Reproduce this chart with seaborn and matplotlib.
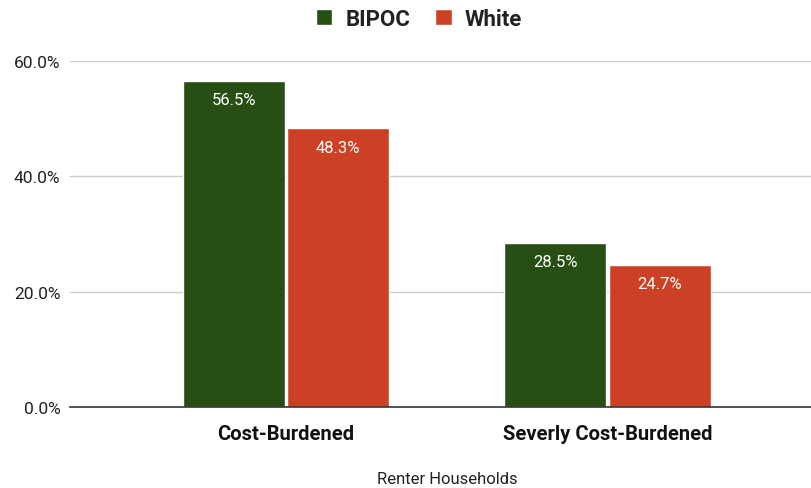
import matplotlib
matplotlib.use("Agg")
import matplotlib.pyplot as plt
import seaborn as sns
import pandas as pd
from matplotlib.patches import Patch

categories = ["Cost-Burdened", "Severly Cost-Burdened"]
groups = ["BIPOC", "White"]
bipoc = [56.5, 28.5]
white = [48.3, 24.7]
y_ticks = [0, 20, 40, 60]
x_title = "Renter Households"
colors = {"BIPOC": "#274e13", "White": "#cc4125"}

df = pd.DataFrame({
    "category": categories * 2,
    "group": ["BIPOC"] * len(categories) + ["White"] * len(categories),
    "value": bipoc + white,
})

sns.set_theme(style="white")
plt.rcParams["font.family"] = ["Roboto", "DejaVu Sans"]

fig = plt.figure(figsize=(8.12, 4.89), dpi=100)
ax = fig.add_axes([70 / 812, 81 / 489, 742 / 812, 346 / 489])

sns.barplot(data=df, x="category", y="value", hue="group", palette=colors,
            hue_order=groups, order=categories, width=0.65, gap=0.02,
            saturation=1, ax=ax, legend=False, errorbar=None)

for container in ax.containers:
    for bar in container:
        h = bar.get_height()
        ax.annotate(f"{h:.1f}%", (bar.get_x() + bar.get_width() / 2, h),
                    xytext=(0, -13.5), textcoords="offset points",
                    ha="center", va="center", color="white", fontsize=12)

ax.set_xlim(-0.672, 1.636)
ax.set_ylim(0, 60)
ax.set_yticks(y_ticks)
ax.set_yticklabels([f"{v:.1f}%" for v in y_ticks], fontsize=12.5, color="#222222")
ax.yaxis.grid(True, color="#cccccc", linewidth=1)
ax.set_axisbelow(True)
for s in ["top", "right", "left"]:
    ax.spines[s].set_visible(False)
ax.spines["bottom"].set_color("#333333")
ax.spines["bottom"].set_linewidth(1.2)
ax.tick_params(axis="y", length=0, pad=7)
ax.tick_params(axis="x", length=0, pad=12)
for lbl in ax.get_xticklabels():
    lbl.set_fontweight("bold")
    lbl.set_fontsize(14.5)
    lbl.set_color("#111111")
ax.set_xlabel(x_title, fontsize=12, color="#222222", va="center")
ax.xaxis.set_label_coords((447 - 70) / 742, -(480 - 408) / 346)
ax.set_ylabel("")

handles = [Patch(facecolor=colors[g], label=g) for g in groups]
leg = fig.legend(handles=handles, loc="center", bbox_to_anchor=(419 / 812, 1 - 20 / 489),
                 ncol=2, frameon=False, prop={"weight": "bold", "size": 16},
                 handlelength=0.75, handleheight=0.75, handletextpad=0.6, columnspacing=1.1)
for t in leg.get_texts():
    t.set_color("#222222")

fig.savefig("out.png", dpi=100)
